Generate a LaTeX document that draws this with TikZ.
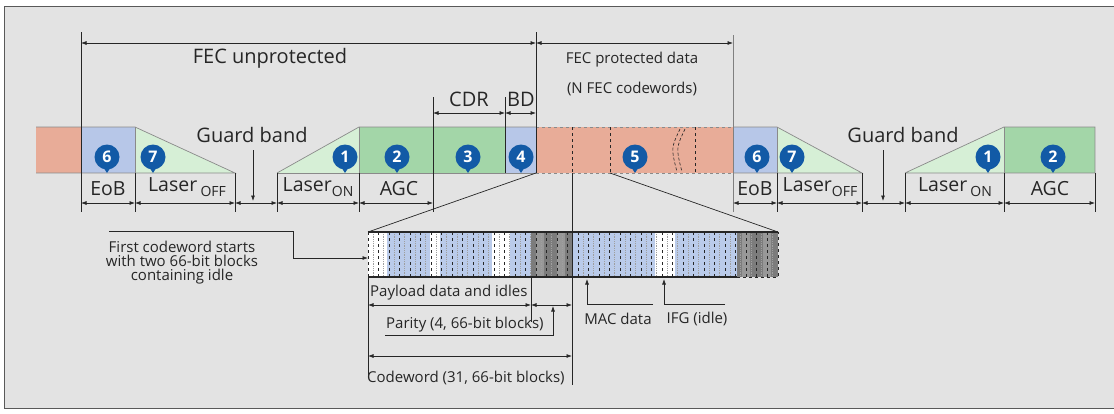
\documentclass[tikz,border=0pt]{standalone}
\usepackage{fontspec}
\setmainfont{Open Sans}
\usetikzlibrary{arrows.meta}
\definecolor{bg}{HTML}{E3E3E3}
\definecolor{org}{HTML}{E8AC98}
\definecolor{eob}{HTML}{B7C7E8}
\definecolor{grn}{HTML}{A3D6A8}
\definecolor{lgrn}{HTML}{D6EFD6}
\definecolor{circ}{HTML}{125AA6}
\definecolor{txt}{HTML}{262626}
\definecolor{sblue}{HTML}{BACBEA}
\definecolor{dg}{HTML}{7C7C7C}
\definecolor{mg}{HTML}{989898}
\definecolor{barline}{HTML}{8A8A8A}
\newcommand{\fsz}[1]{\fontsize{#1}{#1}\selectfont}
\newcommand{\sub}[1]{\raisebox{-5pt}{\fsz{14}#1}}
\begin{document}
\begin{tikzpicture}[x=1pt,y=-1pt,
  tip/.tip={Latex[length=5.5pt,width=4pt]},
  dim/.style={draw=txt,line width=0.7pt,tip-tip},
  arr/.style={draw=txt,line width=0.7pt,-tip},
  tick/.style={draw=txt,line width=0.7pt},
  bar/.style={draw=barline,line width=0.7pt},
  num/.style={circle,fill=circ,text=white,minimum size=25pt,inner sep=0pt,font=\bfseries\fsz{16}},
  big/.style={text=txt,font=\fsz{20}},
  mid/.style={text=txt,font=\fsz{19.5}},
  small/.style={text=txt,font=\fsz{15}},
  ]
\useasboundingbox (0,0) rectangle (1114,413);
\fill[white] (0,0) rectangle (1114,413);
\draw[draw=gray!70!black,fill=bg,line width=1pt] (4,6) rectangle (1125,408);

% ---------- bar row ----------
\fill[org] (36,127) rectangle (81,173);
\fill[eob] (81,127) rectangle (135,173);
\fill[lgrn] (135,127) -- (235,173) -- (135,173) -- cycle;
\fill[lgrn] (277,173) -- (359,127) -- (359,173) -- cycle;
\fill[grn] (359,127) rectangle (505,173);
\fill[eob] (505,127) rectangle (536,173);
\fill[org] (536,127) rectangle (733,173);
\fill[eob] (733,127) rectangle (777,173);
\fill[lgrn] (777,127) -- (862,173) -- (777,173) -- cycle;
\fill[lgrn] (905,173) -- (1004,127) -- (1004,173) -- cycle;
\fill[grn] (1004,127) rectangle (1095,173);

\draw[bar] (36,127) -- (135,127) -- (235,173) -- (36,173);
\draw[bar] (277,173) -- (359,127) -- (536,127);
\draw[bar] (277,173) -- (536,173);
\draw[bar,dashed] (536,127) -- (733,127);
\draw[bar,dashed] (536,173) -- (733,173);
\draw[bar] (733,127) -- (777,127) -- (862,173) -- (733,173);
\draw[bar] (905,173) -- (1004,127) -- (1095,127) -- (1095,173) -- (905,173);
\draw[bar] (135,127) -- (135,173);
\draw[bar] (777,127) -- (777,173);
\draw[bar] (1004,127) -- (1004,173);
\draw[bar] (359,127) -- (359,173);

% dashed block marks in protected data
\draw[txt,dashed,line width=0.8pt] (572,127) -- (572,173);
\draw[txt,dashed,line width=0.6pt] (610,127) -- (610,173);
\draw[txt,dashed,line width=0.8pt] (695,127) -- (695,173);
\draw[txt,densely dashed,line width=0.6pt] (680,129) .. controls (671,148) .. (677,172);
\draw[txt,densely dashed,line width=0.6pt] (685,129) .. controls (676,148) .. (682,172);

% circles (numbered markers with a small point below)
\foreach \x/\n/\nm in {107/6/n6a,153/7/n7a,345/1/n1a,397/2/n2a,468/3/n3,521/4/n4,635/5/n5,757/6/n6b,792/7/n7b,988/1/n1b,1053/2/n2b}{
  \fill[circ] (\x-4.5,166) -- (\x+4.5,166) -- (\x,173) -- cycle;
  \node[num] (\nm) at (\x,157) {\n};
}

% ---------- vertical ticks ----------
\draw[tick] (81,32) -- (81,212);
\draw[tick] (536,32) -- (536,173);
\draw[tick,draw=gray] (733,35) -- (733,212);
\draw[tick] (135,173) -- (135,212);
\draw[tick] (235,173) -- (235,212);
\draw[tick] (277,173) -- (277,212);
\draw[tick] (359,173) -- (359,212);
\draw[tick] (433,97) -- (433,212);
\draw[tick] (505,97) -- (505,173);
\draw[tick] (777,173) -- (777,212);
\draw[tick] (862,173) -- (862,212);
\draw[tick] (905,173) -- (905,212);
\draw[tick] (1004,173) -- (1004,212);
\draw[tick] (1095,173) -- (1095,212);

% ---------- dimensions ----------
\draw[dim] (81,43) -- (536,43);
\draw[dim] (536,43) -- (733,43);
\draw[dim] (433,113) -- (505,113);
\draw[dim] (505,113) -- (536,113);
\foreach \a/\b in {81/135,135/235,235/277,277/359,359/433,733/777,777/862,862/905,905/1004,1004/1095}
  \draw[dim] (\a,203) -- (\b,203);

% ---------- labels ----------
\node[big] (fecu) at (270,58) {FEC unprotected};
\node[small] (fecp) at (632,60) {FEC protected data};
\node[small] (fecn) at (632,89) {(N FEC codewords)};
\node[mid,font=\fsz{20}] (cdr) at (469,99) {CDR};
\node[mid,font=\fsz{20}] (bd) at (521,99) {BD};
\node[big] (gb1) at (252,135) {Guard band};
\node[big] (gb2) at (903,135) {Guard band};
\draw[arr] (253,150) -- (253,201);
\draw[arr] (883,150) -- (883,201);

\node[mid] (eob1) at (108,189) {EoB};
\node[mid] (loff1) at (187,187) {Laser\,\sub{OFF}};
\node[mid] (lon1) at (318,187) {Laser\sub{ON}};
\node[mid] (agc1) at (399,189) {AGC};
\node[mid] (eob2) at (755,189) {EoB};
\node[mid] (loff2) at (820,187) {Laser\sub{OFF}};
\node[mid] (lon2) at (955,187) {Laser\,\sub{ON}};
\node[mid] (agc2) at (1050,189) {AGC};

% ---------- zoom lines ----------
\draw[txt,line width=0.7pt] (536,173) -- (368,232);
\draw[txt,line width=0.7pt] (610,173) -- (778,232);

% ---------- codeword strip ----------
\fill[white] (368,232) rectangle (778,277);
\fill[sblue] (387,232) rectangle (430,277);
\fill[sblue] (440,232) rectangle (492,277);
\fill[sblue] (510,232) rectangle (531,277);
\fill[dg] (531,232) rectangle (573,277);
\fill[sblue] (573,232) rectangle (655,277);
\fill[sblue] (675,232) rectangle (737,277);
\fill[dg] (737,232) rectangle (778,277);
\foreach \x in {536,557,742,763} \fill[mg] (\x,232) rectangle ++(8,45);
\foreach \i in {1,...,38} {
  \draw[txt,dashed,line width=0.6pt] ({368+\i*10.5},232) -- ({368+\i*10.5},277);
}
\foreach \i in {0,...,38} {
  \draw[gray!75,densely dotted,line width=0.8pt] ({373.25+\i*10.5},232) -- ({373.25+\i*10.5},277);
}
\draw[txt,line width=1.6pt] (368,232) -- (778,232);
\draw[txt,line width=1.6pt] (368,277) -- (737,277);
\draw[txt,dashed,line width=0.8pt] (737,277) -- (778,277) -- (778,232);
\draw[txt,dashed,line width=0.8pt] (368,232) -- (368,277);
\draw[txt,line width=0.8pt] (572,173) -- (572,385);

% first codeword callout
\node[small,align=center] (first) at (182,263) {First codeword starts\\[-1pt]with two 66-bit blocks\\[-1pt]containing idle};
\draw[arr] (109,231) -- (293,231) -- (293,258) -- (368,258);

% payload / parity / codeword
\draw[tick] (368,277) -- (368,377);
\draw[tick] (531,277) -- (531,322);
\node[small,anchor=west,inner sep=1pt] (pay) at (369,293) {Payload data and idles};
\draw[dim] (368,305) -- (531,305);
\draw[dim] (531,305) -- (572,305);
\node[small,anchor=west,inner sep=1pt] (par) at (385,325) {Parity (4, 66-bit blocks)};
\draw[arr] (385,335) -- (553,335) -- (553,306);
\draw[dim] (368,356) -- (572,356);
\node[small,anchor=west,inner sep=1pt] (cw) at (366,378) {Codeword (31, 66-bit blocks)};

% MAC data / IFG
\draw[arr] (653,304) -- (587,304) -- (587,279);
\node[small] (mac) at (618,319) {MAC data};
\draw[arr] (725,304) -- (664,304) -- (664,279);
\node[small] (ifg) at (697,319) {IFG (idle)};
\end{tikzpicture}
\end{document}
